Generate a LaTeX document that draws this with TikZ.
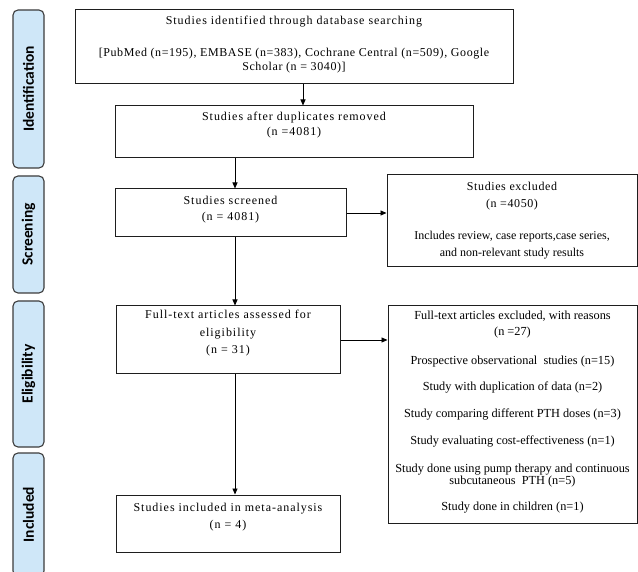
\documentclass[tikz,border=0pt]{standalone}
\usepackage{fontspec}
\setmainfont{Liberation Serif}
\newfontfamily\spaced[LetterSpace=8]{Liberation Serif}
\newfontfamily\semispaced[LetterSpace=5]{Liberation Serif}
\newfontfamily\phasefont{Carlito}
\usetikzlibrary{arrows.meta}
\definecolor{phasefill}{HTML}{CFE7F8}
\definecolor{phaseline}{HTML}{3C3C3C}
\definecolor{boxline}{HTML}{1E1E1E}
\begin{document}
\begin{tikzpicture}[x=1pt,y=-1pt,
  box/.style={draw=boxline, line width=1pt, rectangle, inner sep=0pt, align=center},
  mainbox/.style={box, font=\fontsize{12}{16}\selectfont\spaced},
  sidebox/.style={box, font=\fontsize{12}{14}\selectfont\semispaced},
  phase/.style={draw=phaseline, fill=phasefill, line width=1.1pt, rounded corners=5pt, inner sep=0pt,
    minimum width=31pt},
  phasetext/.style={font=\fontsize{15.5}{18}\selectfont\phasefont\bfseries, rotate=90},
  arr/.style={-{Triangle[length=6pt,width=5pt]}, line width=0.9pt, draw=black}]
\useasboundingbox (0,0) rectangle (638,572);
\clip (0,0) rectangle (638,572);
\fill[white] (0,0) rectangle (638,572);

% phase labels
\node[phase, minimum height=158pt] (pid) at (28.5,89) {};
\node[phasetext] (pidt) at (pid.center) {Identification};
\node[phase, minimum height=117pt] (psc) at (28.5,234.5) {};
\node[phasetext] (psct) at (psc.center) {Screening};
\node[phase, minimum height=146pt] (pel) at (28.5,374) {};
\node[phasetext] (pelt) at (pel.center) {Eligibility};
\node[phase, minimum height=123pt] (pin) at (28.5,514.5) {};
\node[phasetext] (pint) at (pin.center) {Included};

% main boxes
\node[mainbox, minimum width=438pt, minimum height=74pt, text depth=7pt] (top) at (294,47)
  {Studies identified through database searching\\[16pt]
   {\semispaced [PubMed (n=195), EMBASE (n=383), Cochrane Central (n=509), Google}\\[-2pt]
   {\semispaced Scholar (n = 3040)]}};
\node[mainbox, minimum width=358pt, minimum height=52pt, text depth=16pt] (dup) at (294,132)
  {Studies after duplicates removed\\[-1pt] (n =4081)};
\node[mainbox, minimum width=231pt, minimum height=48pt, text depth=9pt] (scr) at (230.5,213)
  {Studies screened\\ (n = 4081)};
\node[mainbox, minimum width=224pt, minimum height=68pt, text depth=16pt,
  font=\fontsize{12}{17.5}\selectfont\spaced] (ft) at (228,340)
  {Full-text articles assessed for\\ eligibility\\ (n = 31)};
\node[mainbox, minimum width=224pt, minimum height=57pt, text depth=15pt] (inc) at (228,523.5)
  {Studies included in meta-analysis\\[1pt] (n = 4)};

% side boxes
\node[sidebox, minimum width=250pt, minimum height=92pt, text depth=4pt,
  font=\fontsize{12}{17}\selectfont\semispaced] (ex1) at (512,221)
  {Studies excluded\\ (n =4050)\\[15pt]
   {\rmfamily Includes review, case reports,case series,}\\
   {\rmfamily and non-relevant study results}};
\node[box, minimum width=249pt, minimum height=217pt, text depth=8pt,
  font=\fontsize{12.3}{14}\selectfont] (ex2) at (512.5,414.5)
  {Full-text articles excluded, with reasons\\[2pt]
   (n =27)\\[15pt]
   Prospective observational\ \ studies (n=15)\\[12pt]
   Study with duplication of data (n=2)\\[13pt]
   Study comparing different PTH doses (n=3)\\[13pt]
   Study evaluating cost-effectiveness (n=1)\\[14pt]
   Study done using pump therapy and continuous\\[-2pt]
   subcutaneous\ \ PTH (n=5)\\[12pt]
   Study done in children (n=1)};

% connectors
\coordinate (spine) at (235,0);
\coordinate (topx) at (303,0);
\draw[arr] (top.south -| topx) -- (dup.north -| topx);
\draw[arr] (dup.south -| spine) -- (scr.north -| spine);
\draw[arr] (scr.south -| spine) -- (ft.north -| spine);
\draw[arr] (ft.south -| spine) -- (inc.north -| spine);
\draw[arr] (scr.east) -- (scr.east -| ex1.west);
\draw[arr] (ft.east) -- (ft.east -| ex2.west);
\end{tikzpicture}
\end{document}
